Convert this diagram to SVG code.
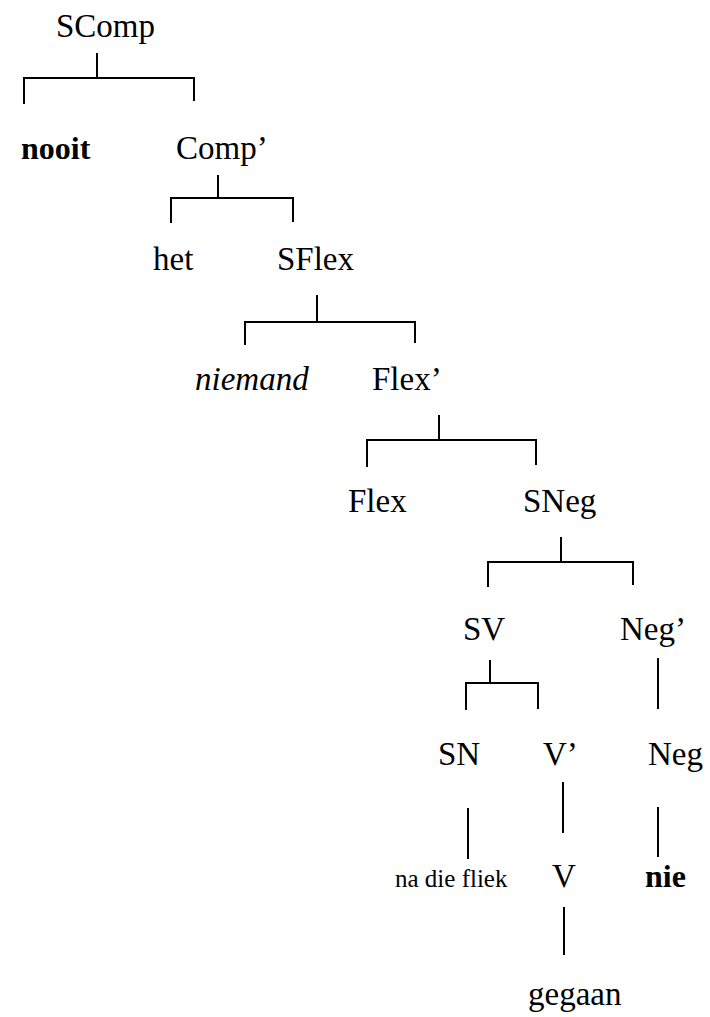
<svg xmlns="http://www.w3.org/2000/svg" width="710" height="1017" viewBox="0 0 710 1017" font-family="Liberation Serif, Times New Roman, Times, Tinos, Noto Serif, DejaVu Serif, serif">
<style>
text{font-size:33px;fill:#000}
.b{font-weight:bold;font-size:32px}
.i{font-style:italic}
.s{font-size:25px}
.c path{fill:none;stroke:#000;stroke-width:2}
</style>
<rect width="710" height="1017" fill="#fff"/>
<g class="c" id="connectors">
<path d="M97 53V78M24 104V78H194V101"/>
<path d="M218 175V198M171 223V198H293V222"/>
<path d="M317 295V322M245 345V322H415V343"/>
<path d="M439 415V440M367 467V440H536V465"/>
<path d="M561 537V562M488 587V562H633V585"/>
<path d="M490 660V683M466 710V683H538V709"/>
<path d="M658 658V709"/>
<path d="M468 808V859"/>
<path d="M563 782V833"/>
<path d="M658 807V857"/>
<path d="M564 907V955"/>
</g>
<g id="n-scomp"><text x="56" y="37">SComp</text></g>
<g id="n-nooit"><text class="b" x="21" y="159">nooit</text></g>
<g id="n-comp1"><text x="176" y="159">Comp’</text></g>
<g id="n-het"><text x="153" y="270">het</text></g>
<g id="n-sflex"><text x="277" y="270">SFlex</text></g>
<g id="n-niemand"><text class="i" x="195" y="390">niemand</text></g>
<g id="n-flex1"><text x="372" y="390">Flex’</text></g>
<g id="n-flex"><text x="348" y="512">Flex</text></g>
<g id="n-sneg"><text x="523" y="512">SNeg</text></g>
<g id="n-sv"><text x="463" y="640">SV</text></g>
<g id="n-neg1"><text x="620" y="640">Neg’</text></g>
<g id="n-sn"><text x="438" y="765">SN</text></g>
<g id="n-v1"><text x="543" y="765">V’</text></g>
<g id="n-neg"><text x="648" y="765">Neg</text></g>
<g id="n-nadiefliek"><text class="s" x="395" y="887">na die fliek</text></g>
<g id="n-v"><text x="552" y="887">V</text></g>
<g id="n-nie"><text class="b" x="645" y="887">nie</text></g>
<g id="n-gegaan"><text x="528" y="1005">gegaan</text></g>
</svg>
